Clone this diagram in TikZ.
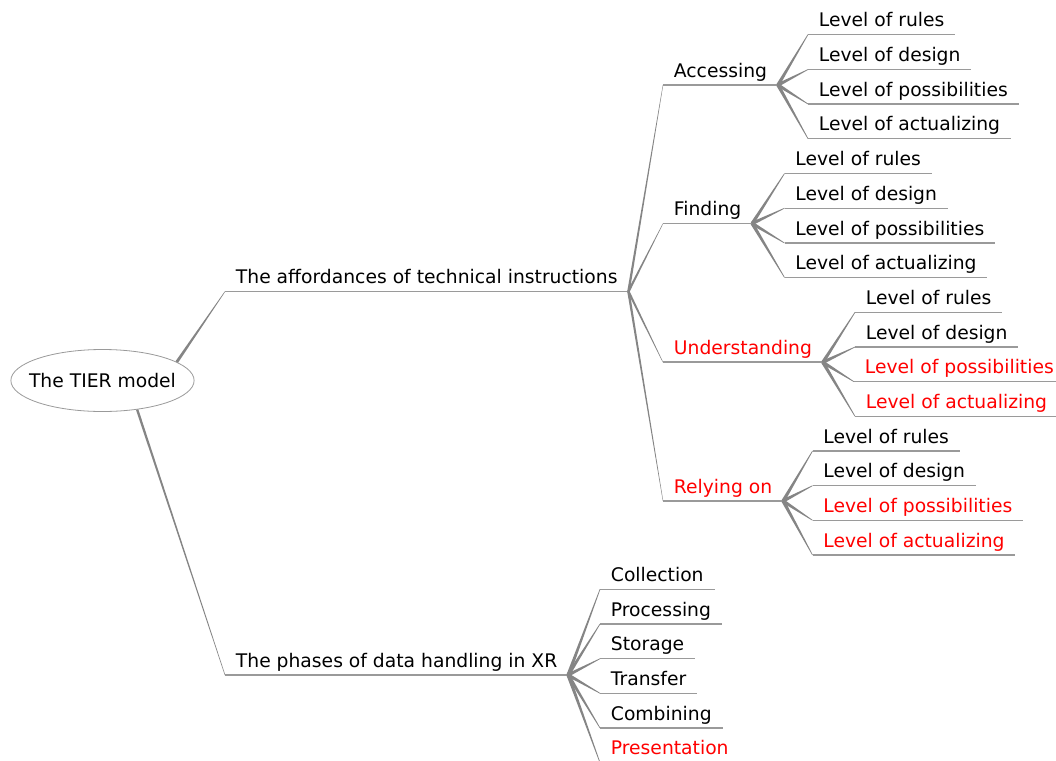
\documentclass[tikz,border=0pt]{standalone}
\usepackage{fontspec}
\setmainfont{DejaVu Sans}
\usetikzlibrary{calc,shapes.geometric}

\definecolor{edgegray}{HTML}{858585}
\definecolor{linegray}{HTML}{9A9A9A}
\definecolor{hot}{HTML}{FF0000}

% tapered connector: from #1 to #2, half widths #3 (start) and #4 (end)
\newcommand\tapered[4]{%
  \fill[edgegray] ($(#1)!#3!90:(#2)$) -- ($(#2)!#4!-90:(#1)$)
    -- ($(#2)!#4!90:(#1)$) -- ($(#1)!#3!-90:(#2)$) -- cycle;}

\tikzset{
  mapfont/.style={font=\fontsize{14.05}{16}\selectfont},
  topic/.style={mapfont, anchor=south west, inner xsep=8pt, inner ysep=5.6pt,
    text depth=0pt,
    append after command={(\tikzlastnode.south west)
      edge[draw=linegray, line width=#1] (\tikzlastnode.south east)}},
  topic/.default=0.9pt,
  hotnode/.style={text=hot},
  rootnode/.style={mapfont, ellipse, draw=linegray, line width=0.6pt, fill=white,
    inner xsep=-6.5pt, inner ysep=0pt,
    minimum width=136.5pt, minimum height=46.5pt},
}

\begin{document}
\begin{tikzpicture}[x=0.75pt,y=-0.75pt]
\useasboundingbox (0,0) rectangle (1056,760);
\clip (0,0) rectangle (1056,760);

% root
\node[rootnode] (root) at (102.5,380.5) {The TIER model};

% main branches
\node[topic=1.4pt] (aff) at (225,291.5) {The affordances of technical instructions};
\node[topic=1.4pt] (pha) at (225,675) {The phases of data handling in XR};

% affordances
\node[topic=1.4pt] (acc) at (663,85) {Accessing};
\node[topic=1.4pt] (fin) at (663,223.5) {Finding};
\node[topic=1.4pt, hotnode] (und) at (663,362.3) {Understanding};
\node[topic=1.4pt, hotnode] (rel) at (663,501) {Relying on};

% accessing levels
\node[topic] (acc1) at (808,34.5) {Level of rules};
\node[topic] (acc2) at (808,69.5) {Level of design};
\node[topic] (acc3) at (808,104) {Level of possibilities};
\node[topic] (acc4) at (808,138.7) {Level of actualizing};

% finding levels
\node[topic] (fin1) at (784.5,173.5) {Level of rules};
\node[topic] (fin2) at (784.5,208.2) {Level of design};
\node[topic] (fin3) at (784.5,243) {Level of possibilities};
\node[topic] (fin4) at (784.5,277.5) {Level of actualizing};

% understanding levels
\node[topic] (und1) at (855,312.3) {Level of rules};
\node[topic] (und2) at (855,347) {Level of design};
\node[topic, hotnode] (und3) at (854,381.7) {Level of possibilities};
\node[topic, hotnode] (und4) at (855,416.3) {Level of actualizing};

% relying levels
\node[topic] (rel1) at (812.5,451) {Level of rules};
\node[topic] (rel2) at (812.5,485.7) {Level of design};
\node[topic, hotnode] (rel3) at (812.5,520.3) {Level of possibilities};
\node[topic, hotnode] (rel4) at (812.5,555) {Level of actualizing};

% phases
\node[topic] (ph1) at (600,589.3) {Collection};
\node[topic] (ph2) at (600,624) {Processing};
\node[topic] (ph3) at (600,658.7) {Storage};
\node[topic] (ph4) at (600,693.3) {Transfer};
\node[topic] (ph5) at (600,728) {Combining};
\node[topic, hotnode] (ph6) at (600,762.7) {Presentation};

% connectors
\tapered{root.14}{aff.south west}{1.1pt}{0.2pt}
\tapered{root.-40}{pha.south west}{0.9pt}{0.2pt}

\foreach \c in {acc,fin,und,rel}
  \tapered{aff.south east}{\c.south west}{0.9pt}{0.15pt};

\foreach \p in {acc,fin,und,rel}
  \foreach \i in {1,2,3,4}
    \tapered{\p.south east}{\p\i.south west}{1.3pt}{0.25pt};

\foreach \i in {1,...,6}
  \tapered{pha.south east}{ph\i.south west}{1.3pt}{0.25pt};
\end{tikzpicture}
\end{document}
